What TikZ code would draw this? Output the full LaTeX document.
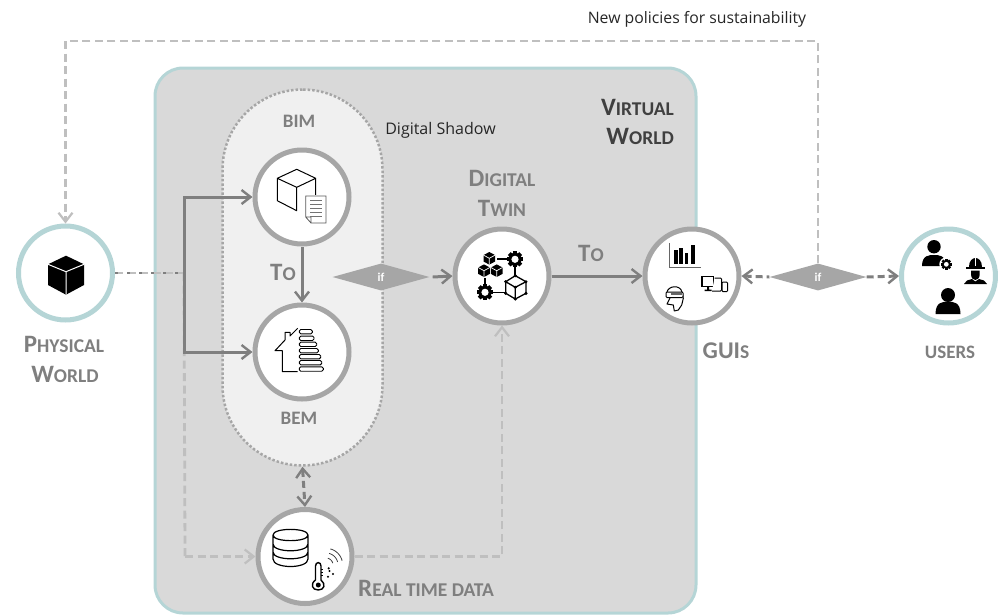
\documentclass[tikz,border=0pt]{standalone}
\usepackage{fontspec}
\setmainfont{Carlito}
\newfontfamily\uifont{Open Sans}
\usetikzlibrary{arrows.meta,shapes.geometric}
\definecolor{teal}{HTML}{B5D5D6}
\definecolor{boxgray}{HTML}{D9D9D9}
\definecolor{ringgray}{HTML}{A6A6A6}
\definecolor{linegray}{HTML}{7F7F7F}
\definecolor{dashgray}{HTML}{BFBFBF}
\definecolor{capsule}{HTML}{F0F0F0}
\newcommand{\SCap}[3][25]{{\fontsize{#1}{#1}\selectfont #2}{\fontsize{19.5}{19.5}\selectfont #3}}
\newcommand{\GearAt}[3]{% x y r
  \foreach \a in {0,45,...,135}{\fill[black,shift={(#1,#2)},rotate=\a] (-0.25*#3,-1.02*#3) rectangle (0.25*#3,1.02*#3);}
  \fill[black] (#1,#2) circle[radius=0.82*#3];
  \fill[white] (#1,#2) circle[radius=0.45*#3];}
\newcommand{\MiniCube}[2]{% x y
  \fill[black] (#1,#2-6.3)--(#1+5.8,#2-3.2)--(#1+5.8,#2+3.2)--(#1,#2+6.3)--(#1-5.8,#2+3.2)--(#1-5.8,#2-3.2)--cycle;
  \draw[white,line width=.7pt] (#1-5.8,#2-3.2)--(#1,#2)--(#1+5.8,#2-3.2) (#1,#2)--(#1,#2+6.3);}
\newcommand{\Person}[6]{% x, head y, head r, body half width, body top, body bottom
  \fill[black] (#1,#2) circle[radius=#3];
  \fill[black] (#1-#4,#6) .. controls (#1-#4,#5) and (#1-#4*0.4,#5) .. (#1,#5)
     .. controls (#1+#4*0.4,#5) and (#1+#4,#5) .. (#1+#4,#6) -- cycle;}
\tikzset{
  x=1pt,y=-1pt,
  ring/.style={circle,draw=ringgray,fill=white,line width=5pt,minimum size=94pt,inner sep=0pt},
  tealring/.style={circle,draw=teal,fill=white,line width=5pt,minimum size=94pt,inner sep=0pt},
  caption/.style={text=linegray,font=\bfseries,inner sep=0pt,align=center},
  gate/.style={diamond,fill=ringgray,inner sep=0pt,minimum width=97pt,minimum height=27pt,text=white,font=\bfseries\fontsize{12}{12}\selectfont},
  barb/.tip={Straight Barb[length=9pt,width=14pt,line width=2.4pt]},
  softbarb/.tip={Straight Barb[length=9pt,width=14pt,line width=2.2pt]},
  solidlink/.style={draw=linegray,line width=3pt,-barb},
  softlink/.style={draw=dashgray,line width=2.8pt,dash pattern=on 8pt off 4.5pt},
  darklink/.style={draw=linegray,line width=3pt,dash pattern=on 7pt off 4pt},
  ic/.style={draw=black,line width=1pt,line join=round},
}
\begin{document}
\begin{tikzpicture}
\useasboundingbox (0,0) rectangle (998,614);
% world box and capsule
\draw[draw=teal,fill=boxgray,line width=3pt,rounded corners=28pt] (155,68) rectangle (696,613);
\node[draw=ringgray,fill=capsule,line width=2.5pt,dotted,rounded corners=80pt,minimum width=160pt,minimum height=376pt,inner sep=0pt] (shadow) at (302.5,277.5) {};
% nodes
\node[tealring] (phys) at (65.5,273) {};
\node[ring] (bim) at (302,197) {};
\node[ring] (bem) at (302,352) {};
\node[ring] (dt) at (502,276) {};
\node[ring] (gui) at (692,276) {};
\node[tealring] (users) at (948.5,276) {};
\node[ring] (rt) at (305,556.5) {};
\node[gate] (if1) at (381,277) {if};
\node[gate] (if2) at (818,277) {if};
\coordinate (split) at (184,273);
\coordinate (loopR) at (818,41);
\coordinate (loopL) at (65.5,41);
\coordinate (softdown) at (185,556.5);
% connectors
\draw[softlink] (split) -- (softdown);
\draw[softlink,-softbarb] (softdown) -- (rt.west);
\draw[softlink,-softbarb] (rt.east) -| (dt.south);
\draw[softlink,-softbarb] (if2.north) |- (loopL) -- (phys.north);
\draw[softlink] (phys.east) -- (split);
\draw[draw=linegray,line width=2.5pt,dash pattern=on 3pt off 9pt] (phys.east) -- (split);
\draw[solidlink] (split) |- (bim.west);
\draw[solidlink] (split) |- (bem.west);
\draw[solidlink] (bim.south) -- (bem.north);
\draw[solidlink] (if1.east) ++(3,0) -- (dt.west);
\draw[solidlink] (dt.east) -- (gui.west);
\draw[darklink,barb-barb] (shadow.south) -- (rt.north);
\draw[darklink,barb-] (gui.east) -- (if2.west);
\draw[darklink,-barb] (if2.east) -- (users.west);
% labels
\node[inner sep=0pt,font=\uifont\fontsize{15.8}{15.8}\selectfont,text=black!85] (newpol) at (697,19) {New policies for sustainability};
\node[inner sep=0pt,font=\uifont\fontsize{16}{16}\selectfont,text=black!85] (dshadow) at (440.5,130) {Digital Shadow};
\node[inner sep=0pt,anchor=east,font=\bfseries,text=black!75] (vw1) at (674,107) {\SCap{V}{IRTUAL}};
\node[inner sep=0pt,anchor=east,font=\bfseries,text=black!75] (vw2) at (674,136) {\SCap{W}{ORLD}};
\node[caption] (pw1) at (64,344) {\SCap{P}{HYSICAL}};
\node[caption] (pw2) at (65,374) {\SCap{W}{ORLD}};
\node[caption] (dt1) at (502,178) {\SCap{D}{IGITAL}};
\node[caption] (dt2) at (502,208) {\SCap{T}{WIN}};
\node[caption] (to1) at (283,272) {\SCap{T}{O}};
\node[caption] (to2) at (591,253) {\SCap{T}{O}};
\node[caption] (guis) at (726,351) {\SCap[24]{GUI}{S}};
\node[caption] (usr) at (950,352) {\fontsize{19}{19}\selectfont USERS};
\node[caption] (bimt) at (299,121) {\fontsize{19}{19}\selectfont BIM};
\node[caption] (bemt) at (299,418) {\fontsize{19}{19}\selectfont BEM};
\node[caption,anchor=west] (rtt) at (358,588) {\SCap{R}{EAL TIME DATA}};
% physical cube
\fill[black] (66,255.7)--(84,264.3)--(84,285)--(66,294.7)--(48,285)--(48,264.3)--cycle;
\draw[white,line width=1pt] (48,264.3)--(66,271.7)--(84,264.3) (66,271.7)--(66,294.7);
% BIM icon
\draw[ic] (296.7,169.3)--(315.7,178.3)--(296.7,187.3)--(277.3,178.3)--cycle (277.3,178.3)--(277.3,200.7)--(296.7,210.7)--(296.7,187.3) (315.7,178.3)--(315.7,197);
\fill[white] (304,194.5) rectangle (328,225);
\draw[draw=black!65,line width=.8pt] (305.7,196)--(326,196)--(326,223)--(311,223)--(305.7,217)--cycle (305.7,217)--(311,217)--(311,223);
\foreach \yy in {200,204,208,212,216}{\draw[black!55,line width=.8pt] (310,\yy)--(322,\yy);}
% BEM icon
\draw[ic] (297.7,328.3)--(290,336)--(290,332.3)--(285,332.3)--(285,340)--(275,350.7)--(282.3,350.7)--(282.3,371.7)--(297.7,371.7);
\foreach \yy/\xx in {331.7/312.3,338.3/314,344.3/316.7,350.7/318.3,356.7/320.7,362.7/321.7,369/323.3}{
  \draw[draw=black,fill=white,line width=.9pt,rounded corners=1.5pt] (299.3,\yy-2.2) rectangle (\xx,\yy+2.2);}
% Digital twin icon
\MiniCube{489.3}{258.3}
\MiniCube{484}{270.7}
\MiniCube{496.7}{270.7}
\draw[black,line width=1.1pt] (497,259)--(508,259) (515,266)--(515,276) (485,278)--(485,286) (491,292.3)--(505,292.3);
\GearAt{515}{259.3}{8}
\GearAt{485}{292.3}{8}
\draw[ic,line width=1.3pt] (515.3,275.7)--(526,281.7)--(526,293.3)--(515.3,299)--(505.7,293.3)--(505.7,281.7)--cycle (505.7,281.7)--(515.3,287.3)--(526,281.7) (515.3,287.3)--(515.3,299);
\foreach \pp in {(515.3,275.7),(526,281.7),(526,293.3),(515.3,299),(505.7,293.3),(505.7,281.7),(515.3,287.3)}{\fill[black] \pp circle[radius=1.7];}
% GUI icon
\draw[draw=black!60,line width=.9pt] (669.3,243.3)--(669.3,267.7)--(700.7,267.7);
\foreach \xa/\xb/\yt in {674.3/677.6/250,679.3/682.6/248.3,685/688.3/252.7,690.7/694.7/245}{\fill[black] (\xa,\yt) rectangle (\xb,263.5);}
\draw[draw=black,line width=1.5pt] (701.8,276.5) rectangle (713.5,286.5);
\fill[black] (707,286.5) rectangle (709,290) (704.5,289.5) rectangle (711.5,291.2);
\draw[draw=black,fill=white,line width=1pt,rounded corners=1pt] (714.5,278) -- (721.5,278) -- (721.5,291) -- (712,291);
\draw[draw=black,fill=white,line width=1pt,rounded corners=1pt] (722,282) rectangle (727.5,291.7);
\draw[ic,fill=white] (667,292) .. controls (668,286) and (680,284) .. (682,292) -- (683.3,298.3) -- (681.7,305) -- (678.3,310) -- (674.3,311) -- (673.3,305) -- (667,304) -- (670,298) -- cycle;
\draw[draw=black,fill=white,line width=1pt,rounded corners=1pt] (666,292) -- (683,292) -- (683,297.5) -- (666,297.5) -- cycle;
\fill[black!60] (671,293) rectangle (682,295);
% users icon
\Person{934}{246.7}{6.7}{12}{255}{266.2}
\fill[white] (946.3,264.3) circle[radius=7];
\GearAt{946.3}{264.3}{5.3}
\Person{948}{295}{7}{12.5}{301.7}{314}
% worker
\fill[black] (968.7,267) .. controls (968.7,254.5) and (982.3,254.5) .. (982.3,267) -- cycle;
\fill[black] (966.3,267.3) rectangle (984.7,269.3);
\fill[black] (971,270.5) -- (979.7,270.5) -- (979.7,274) .. controls (979.7,282) and (971,282) .. (971,274) -- cycle;
\fill[black] (964,284) -- (967,280.5) -- (972,279) -- (975.3,281.5) -- (979,279) -- (984,280.5) -- (987,284) -- cycle;
\draw[white,line width=.6pt] (975.5,257)--(975.5,266);
% real time data icon
\draw[ic,line width=1.2pt] (273,535) .. controls (273,527.5) and (308,527.5) .. (308,535) .. controls (308,542.5) and (273,542.5) .. (273,535)
  (273,535)--(273,559) .. controls (273,569) and (308,569) .. (308,559)--(308,535)
  (273,544) .. controls (273,553) and (308,553) .. (308,544)
  (273,552) .. controls (273,561) and (308,561) .. (308,552);
\draw[ic,line width=1.4pt] (315.5,566)--(315.5,580) .. controls (310,584) and (312,590) .. (318.3,590) .. controls (324.5,590) and (326,584) .. (321,580)--(321,566) .. controls (321,561.5) and (315.5,561.5) .. (315.5,566);
\fill[black] (318.3,585) circle[radius=2.5];
\draw[black,line width=.6pt] (321,569)--(323,569) (321,572)--(323,572) (321,575)--(323,575);
\foreach \pp in {(328.7,568.3),(329.5,571),(333,574),(328,576.7)}{\fill[black] \pp circle[radius=1.2];}
\foreach \rr in {7,12,16.7}{\draw[black!75,line width=.8pt,domain=15:75,samples=12] plot ({326+\rr*cos(\x)},{565-\rr*sin(\x)});}
\end{tikzpicture}
\end{document}
